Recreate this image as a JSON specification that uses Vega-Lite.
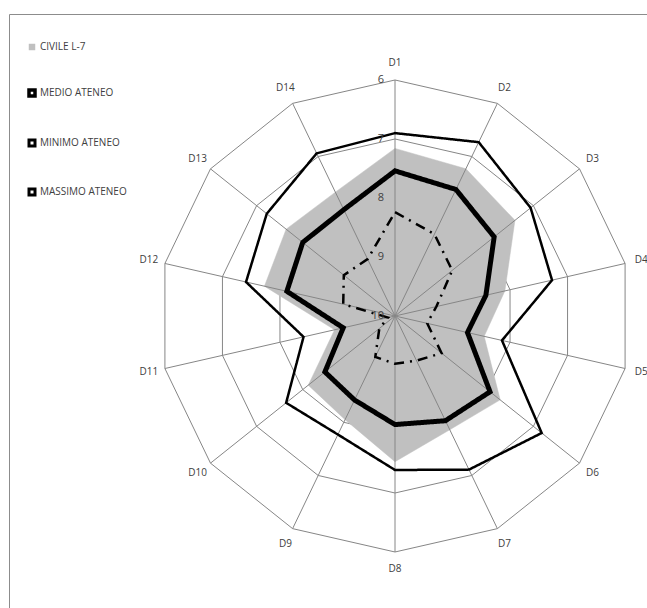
{
  "$schema": "https://vega.github.io/schema/vega-lite/v6.json",
  "width": 638,
  "height": 594,
  "autosize": "none",
  "padding": {"left": 9, "top": 14, "right": 0, "bottom": 0},
  "background": "white",
  "datasets": {
    "scores": [
      {"dim": "D1", "series": "CIVILE L-7", "value": 7.16},
      {"dim": "D2", "series": "CIVILE L-7", "value": 7.23},
      {"dim": "D3", "series": "CIVILE L-7", "value": 7.40},
      {"dim": "D4", "series": "CIVILE L-7", "value": 8.09},
      {"dim": "D5", "series": "CIVILE L-7", "value": 8.45},
      {"dim": "D6", "series": "CIVILE L-7", "value": 7.72},
      {"dim": "D7", "series": "CIVILE L-7", "value": 7.86},
      {"dim": "D8", "series": "CIVILE L-7", "value": 7.53},
      {"dim": "D9", "series": "CIVILE L-7", "value": 8.05},
      {"dim": "D10", "series": "CIVILE L-7", "value": 8.12},
      {"dim": "D11", "series": "CIVILE L-7", "value": 8.95},
      {"dim": "D12", "series": "CIVILE L-7", "value": 7.73},
      {"dim": "D13", "series": "CIVILE L-7", "value": 7.64},
      {"dim": "D14", "series": "CIVILE L-7", "value": 7.67},
      {"dim": "D1", "series": "MEDIO ATENEO", "value": 7.54},
      {"dim": "D2", "series": "MEDIO ATENEO", "value": 7.62},
      {"dim": "D3", "series": "MEDIO ATENEO", "value": 7.85},
      {"dim": "D4", "series": "MEDIO ATENEO", "value": 8.42},
      {"dim": "D5", "series": "MEDIO ATENEO", "value": 8.74},
      {"dim": "D6", "series": "MEDIO ATENEO", "value": 7.94},
      {"dim": "D7", "series": "MEDIO ATENEO", "value": 8.03},
      {"dim": "D8", "series": "MEDIO ATENEO", "value": 8.16},
      {"dim": "D9", "series": "MEDIO ATENEO", "value": 8.42},
      {"dim": "D10", "series": "MEDIO ATENEO", "value": 8.48},
      {"dim": "D11", "series": "MEDIO ATENEO", "value": 9.10},
      {"dim": "D12", "series": "MEDIO ATENEO", "value": 8.12},
      {"dim": "D13", "series": "MEDIO ATENEO", "value": 8.00},
      {"dim": "D14", "series": "MEDIO ATENEO", "value": 8.00},
      {"dim": "D1", "series": "MINIMO ATENEO", "value": 6.90},
      {"dim": "D2", "series": "MINIMO ATENEO", "value": 6.73},
      {"dim": "D3", "series": "MINIMO ATENEO", "value": 7.06},
      {"dim": "D4", "series": "MINIMO ATENEO", "value": 7.27},
      {"dim": "D5", "series": "MINIMO ATENEO", "value": 8.14},
      {"dim": "D6", "series": "MINIMO ATENEO", "value": 6.82},
      {"dim": "D7", "series": "MINIMO ATENEO", "value": 7.11},
      {"dim": "D8", "series": "MINIMO ATENEO", "value": 7.39},
      {"dim": "D9", "series": "MINIMO ATENEO", "value": 7.77},
      {"dim": "D10", "series": "MINIMO ATENEO", "value": 7.64},
      {"dim": "D11", "series": "MINIMO ATENEO", "value": 8.41},
      {"dim": "D12", "series": "MINIMO ATENEO", "value": 7.41},
      {"dim": "D13", "series": "MINIMO ATENEO", "value": 7.22},
      {"dim": "D14", "series": "MINIMO ATENEO", "value": 6.94},
      {"dim": "D1", "series": "MASSIMO ATENEO", "value": 8.24},
      {"dim": "D2", "series": "MASSIMO ATENEO", "value": 8.46},
      {"dim": "D3", "series": "MASSIMO ATENEO", "value": 8.76},
      {"dim": "D4", "series": "MASSIMO ATENEO", "value": 9.28},
      {"dim": "D5", "series": "MASSIMO ATENEO", "value": 9.44},
      {"dim": "D6", "series": "MASSIMO ATENEO", "value": 8.99},
      {"dim": "D7", "series": "MASSIMO ATENEO", "value": 9.16},
      {"dim": "D8", "series": "MASSIMO ATENEO", "value": 9.19},
      {"dim": "D9", "series": "MASSIMO ATENEO", "value": 9.23},
      {"dim": "D10", "series": "MASSIMO ATENEO", "value": 9.66},
      {"dim": "D11", "series": "MASSIMO ATENEO", "value": 9.88},
      {"dim": "D12", "series": "MASSIMO ATENEO", "value": 9.10},
      {"dim": "D13", "series": "MASSIMO ATENEO", "value": 8.89},
      {"dim": "D14", "series": "MASSIMO ATENEO", "value": 8.93}
    ],
    "ticks": [
      {"tick": 6}, {"tick": 7}, {"tick": 8}, {"tick": 9}, {"tick": 10}
    ]
  },
  "data": {"name": "scores"},
  "encoding": {
    "x": {
      "field": "px",
      "type": "quantitative",
      "scale": {"domain": [-6.5424, 4.2712], "nice": false, "zero": false},
      "axis": {"orient": "top", "domainColor": "#8c8c8c", "ticks": false, "labels": false, "grid": false, "title": null}
    },
    "y": {
      "field": "py",
      "type": "quantitative",
      "scale": {"domain": [-4.9492, 5.1186], "nice": false, "zero": false},
      "axis": {"orient": "left", "domainColor": "#8c8c8c", "ticks": false, "labels": false, "grid": false, "title": null}
    }
  },
  "layer": [
    {
      "transform": [
        {"filter": "datum.series === 'CIVILE L-7'"},
        {"calculate": "(parseInt(slice(datum.dim, 1)) - 1) * 2 * PI / 14", "as": "ang"},
        {"calculate": "[6, 7, 8, 9]", "as": "ring"},
        {"flatten": ["ring"]},
        {"calculate": "(10 - datum.ring) * sin(datum.ang)", "as": "px"},
        {"calculate": "(10 - datum.ring) * cos(datum.ang)", "as": "py"}
      ],
      "mark": {"type": "line", "interpolate": "linear-closed", "stroke": "#868686", "strokeWidth": 1},
      "encoding": {
        "detail": {"field": "ring", "type": "nominal"},
        "order": {"field": "ang", "type": "quantitative"}
      }
    },
    {
      "transform": [
        {"filter": "datum.series === 'CIVILE L-7'"},
        {"calculate": "(parseInt(slice(datum.dim, 1)) - 1) * 2 * PI / 14", "as": "ang"},
        {"calculate": "(10 - datum.value) * sin(datum.ang)", "as": "px"},
        {"calculate": "(10 - datum.value) * cos(datum.ang)", "as": "py"}
      ],
      "mark": {"type": "line", "interpolate": "linear-closed", "fill": "#c0c0c0", "stroke": "#c0c0c0", "strokeWidth": 0.5},
      "encoding": {
        "order": {"field": "ang", "type": "quantitative"}
      }
    },
    {
      "transform": [
        {"filter": "datum.series === 'CIVILE L-7'"},
        {"calculate": "(parseInt(slice(datum.dim, 1)) - 1) * 2 * PI / 14", "as": "ang"},
        {"calculate": "4 * sin(datum.ang)", "as": "px"},
        {"calculate": "4 * cos(datum.ang)", "as": "py"}
      ],
      "mark": {"type": "rule", "stroke": "#868686", "strokeWidth": 1},
      "encoding": {
        "x2": {"datum": 0},
        "y2": {"datum": 0}
      }
    },
    {
      "transform": [
        {"filter": "datum.series !== 'CIVILE L-7'"},
        {"calculate": "(parseInt(slice(datum.dim, 1)) - 1) * 2 * PI / 14", "as": "ang"},
        {"calculate": "(10 - datum.value) * sin(datum.ang)", "as": "px"},
        {"calculate": "(10 - datum.value) * cos(datum.ang)", "as": "py"}
      ],
      "mark": {"type": "line", "interpolate": "linear-closed"},
      "encoding": {
        "color": {
          "field": "series",
          "type": "nominal",
          "scale": {
            "domain": ["CIVILE L-7", "MEDIO ATENEO", "MINIMO ATENEO", "MASSIMO ATENEO"],
            "range": ["#c0c0c0", "#000000", "#000000", "#000000"]
          },
          "legend": {
            "title": null,
            "orient": "none",
            "legendX": 18,
            "legendY": 28,
            "rowPadding": 31,
            "symbolType": "square",
            "labelFont": "Open Sans",
            "labelFontSize": 10,
            "labelColor": "#404040",
            "labelOffset": 3,
            "encode": {
              "symbols": {
                "update": {
                  "fill": {"signal": "datum.value === 'CIVILE L-7' ? '#c0c0c0' : '#ffffff'"},
                  "stroke": {"signal": "datum.value === 'CIVILE L-7' ? '#c0c0c0' : '#000000'"},
                  "strokeWidth": {"signal": "datum.value === 'CIVILE L-7' ? 0 : (datum.value === 'MEDIO ATENEO' ? 3.5 : 3)"},
                  "strokeDash": {"value": []},
                  "size": {"signal": "datum.value === 'CIVILE L-7' ? 42 : 36"},
                  "opacity": {"value": 1}
                }
              }
            }
          }
        },
        "detail": {"field": "series", "type": "nominal"},
        "order": {"field": "ang", "type": "quantitative"},
        "strokeWidth": {
          "condition": {"test": "datum.series === 'MEDIO ATENEO'", "value": 5},
          "value": 2.5
        },
        "strokeDash": {
          "condition": {"test": "datum.series === 'MASSIMO ATENEO'", "value": [10, 6, 2, 6]},
          "value": [1, 0]
        }
      }
    },
    {
      "transform": [
        {"filter": "datum.series === 'CIVILE L-7'"},
        {"calculate": "(parseInt(slice(datum.dim, 1)) - 1) * 2 * PI / 14", "as": "ang"},
        {"calculate": "4.28 * sin(datum.ang)", "as": "px"},
        {"calculate": "4.28 * cos(datum.ang)", "as": "py"}
      ],
      "mark": {"type": "text", "font": "Open Sans", "fontSize": 10, "fill": "#404040", "align": "center", "baseline": "middle"},
      "encoding": {
        "text": {"field": "dim", "type": "nominal"}
      }
    },
    {
      "data": {"name": "ticks"},
      "transform": [
        {"calculate": "0", "as": "px"},
        {"calculate": "10 - datum.tick", "as": "py"}
      ],
      "mark": {"type": "text", "font": "Open Sans", "fontSize": 11, "fill": "#404040", "align": "right", "baseline": "middle", "dx": -11},
      "encoding": {
        "text": {"field": "tick", "type": "quantitative"}
      }
    }
  ],
  "config": {
    "view": {"stroke": null}
  }
}
